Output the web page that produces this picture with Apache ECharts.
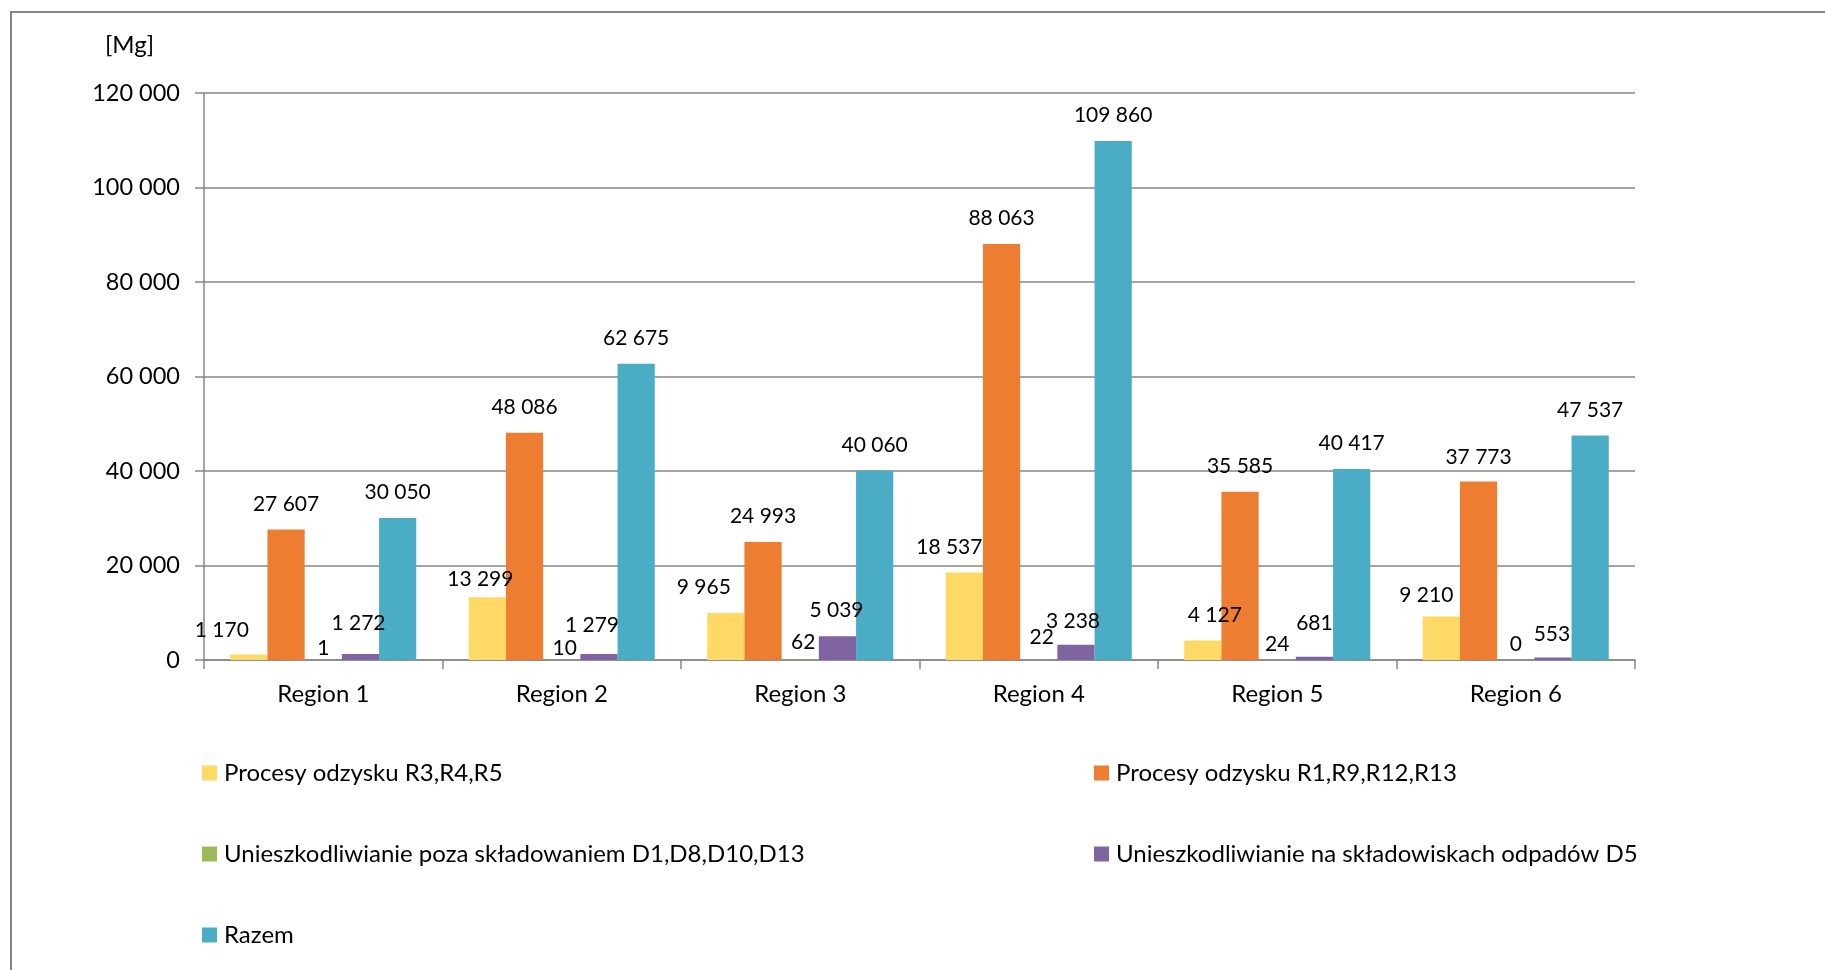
<!DOCTYPE html>
<html>
<head>
<meta charset="utf-8">
<script src="https://cdn.jsdelivr.net/npm/echarts@6/dist/echarts.min.js"></script>
<style>
html,body{margin:0;padding:0;background:#fff;}
#chart{width:1825px;height:970px;}
</style>
</head>
<body>
<div id="chart"></div>
<script>
const categories = ['Region 1','Region 2','Region 3','Region 4','Region 5','Region 6'];
const seriesNames = [
  'Procesy odzysku R3,R4,R5',
  'Procesy odzysku R1,R9,R12,R13',
  'Unieszkodliwianie poza składowaniem D1,D8,D10,D13',
  'Unieszkodliwianie na składowiskach odpadów D5',
  'Razem'
];
const odzyskR3R4R5 = [1170, 13299, 9965, 18537, 4127, 9210];
const odzyskR1R9R12R13 = [27607, 48086, 24993, 88063, 35585, 37773];
const unieszkPozaSkl = [1, 10, 62, 22, 24, 0];
const unieszkSkladowiska = [1272, 1279, 5039, 3238, 681, 553];
const razem = [30050, 62675, 40060, 109860, 40417, 47537];
const yTicks = {min: 0, max: 120000, interval: 20000};

// style: label nudges (px) mimicking the reference's label placement
const labelNudge = [
  {dx: [-27, -7, -22, -15, 12, -15], dy: [1, 8, 0, 0, 0, 4]},
  {dx: [0, 0, 0, 0, 0, 0], dy: [0, 0, 0, 0, 0, 1]},
  {dx: [0, 3, 3, 3, 0, 0], dy: [14, 14, 8, 3, 10, 10]},
  {dx: [-2, -7, -1, -3, 0, -1], dy: [-5, -3, 0, 2, -8, 2]},
  {dx: [0, 0, 0, 0, 0, 0], dy: [0, 0, 0, 0, 0, 0]}
];
const colors = ['#FFD966', '#ED7D31', '#9BBB59', '#8064A2', '#4BACC6'];
const values = [odzyskR3R4R5, odzyskR1R9R12R13, unieszkPozaSkl, unieszkSkladowiska, razem];

const fmt = v => String(v).replace(/\B(?=(\d{3})+(?!\d))/g, ' ');
const FONT = 'Lato';

const chart = echarts.init(document.getElementById('chart'));
const series = values.map((vals, s) => ({
  name: seriesNames[s],
  type: 'bar',
  barGap: '0%',
  barCategoryGap: '22%',
  itemStyle: {color: colors[s]},
  label: {
    show: true, position: 'top', distance: 15,
    color: '#000', fontFamily: FONT, fontSize: 21, lineHeight: 21,
    formatter: p => fmt(p.value)
  },
  data: vals.map((v, i) => ({value: v, label: {offset: [labelNudge[s].dx[i], labelNudge[s].dy[i]]}}))
}));

const legendText = {fontFamily: FONT, fontSize: 24, color: '#000', lineHeight: 26, padding: [0, 0, 0, 2]};

chart.setOption({
  animation: false,
  backgroundColor: '#fff',
  color: colors,
  textStyle: {fontFamily: FONT},
  graphic: [
    {type: 'rect', shape: {x: 11, y: 12, width: 1900, height: 1000},
     style: {fill: 'none', stroke: '#868686', lineWidth: 2}, z: 100},
    {type: 'text', left: 105, top: 33,
     style: {text: '[Mg]', fontFamily: FONT, fontSize: 24, fill: '#000'}}
  ],
  grid: {left: 204, right: 190, top: 93, bottom: 310, containLabel: false},
  legend: [
    {data: [seriesNames[0], seriesNames[2], seriesNames[4]], orient: 'vertical',
     left: 197, top: 755, itemWidth: 15, itemHeight: 15, itemGap: 55,
     icon: 'rect', textStyle: legendText},
    {data: [seriesNames[1], seriesNames[3]], orient: 'vertical',
     left: 1089, top: 755, itemWidth: 15, itemHeight: 15, itemGap: 55,
     icon: 'rect', textStyle: legendText}
  ],
  xAxis: {
    type: 'category', data: categories,
    axisLine: {lineStyle: {color: '#868686', width: 1.5}},
    axisTick: {show: true, length: 9, lineStyle: {color: '#868686', width: 1.5}},
    axisLabel: {color: '#000', fontFamily: FONT, fontSize: 24, margin: 22}
  },
  yAxis: {
    type: 'value', min: yTicks.min, max: yTicks.max, interval: yTicks.interval,
    axisLine: {show: true, lineStyle: {color: '#868686', width: 1.5}},
    axisTick: {show: true, length: 9, lineStyle: {color: '#868686', width: 1.5}},
    splitLine: {lineStyle: {color: '#868686', width: 1.5}},
    axisLabel: {color: '#000', fontFamily: FONT, fontSize: 23.5, margin: 24, formatter: v => fmt(v)}
  },
  series: series
});
</script>
</body>
</html>
